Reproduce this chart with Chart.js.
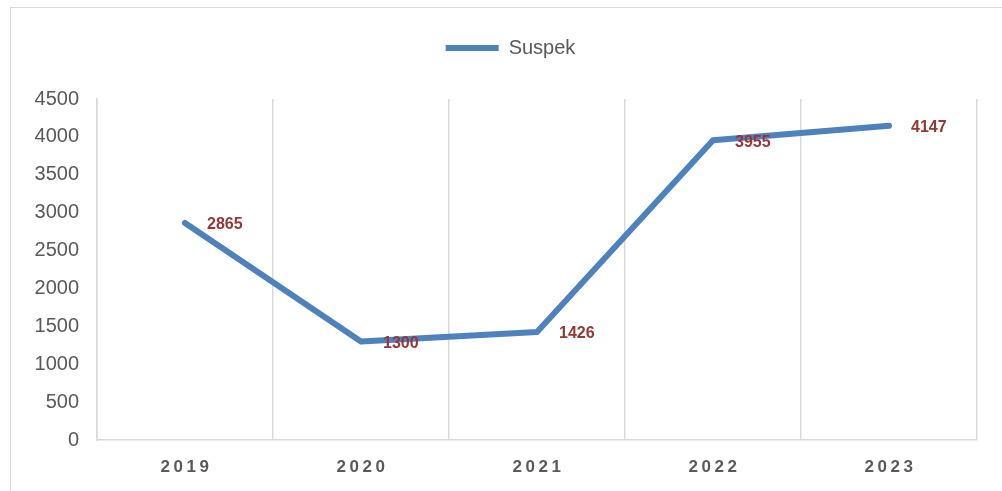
<!DOCTYPE html>
<html>
<head>
<meta charset="utf-8">
<script src="https://cdn.jsdelivr.net/npm/chart.js@4/dist/chart.umd.min.js"></script>
<style>
  html,body{margin:0;padding:0;background:#fff;}
  #wrap{position:relative;width:1002px;height:491px;overflow:hidden;}
  #frame{position:absolute;left:10px;top:7px;width:1100px;height:600px;border:1.5px solid #d9d9d9;box-sizing:border-box;}
  #c{position:absolute;left:0;top:0;}
</style>
</head>
<body>
<div id="wrap">
  <div id="frame"></div>
  <canvas id="c" width="1002" height="491"></canvas>
</div>
<script>
// ─── DATA ────────────────────────────────────────────────────────────────────
const YEARS=['2019','2020','2021','2022','2023'];
const SUSPEK=[2865,1300,1426,3955,4147];
const Y_MIN=0, Y_MAX=4500, Y_STEP=500;

const GRID='#d9d9d9', TXT='#595959', LINE='#4f81bd', LBL='#953735';

// give the legend extra room under it so the plot starts lower,
// and nudge it right like the original
const legendGap={
  id:'legendGap',
  beforeInit(chart){
    const fit=chart.legend.fit;
    chart.legend.fit=function(){fit.call(this); this.height+=31;};
  },
  afterLayout(chart){
    chart.legend.left+=22; chart.legend.right+=22;
  }
};

// year labels are spaced out, so draw them ourselves off the x scale
const xLabels={
  id:'xLabels',
  afterDraw(chart){
    const ctx=chart.ctx, sc=chart.scales.x;
    ctx.save();
    ctx.font='bold 17px "Liberation Sans"';
    ctx.fillStyle=TXT; ctx.textAlign='center'; ctx.textBaseline='middle';
    ctx.letterSpacing='3.5px';
    sc.ticks.forEach((t,i)=>ctx.fillText(YEARS[i],sc.getPixelForTick(i)+1.5,467));
    ctx.restore();
  }
};

// value labels to the right of each point
const valLabels={
  id:'valLabels',
  afterDatasetsDraw(chart){
    const ctx=chart.ctx, pts=chart.getDatasetMeta(0).data;
    ctx.save();
    ctx.font='bold 16px "Liberation Sans"';
    ctx.fillStyle=LBL; ctx.textAlign='left'; ctx.textBaseline='middle';
    pts.forEach((p,i)=>ctx.fillText(String(SUSPEK[i]),p.x+22,p.y+2));
    ctx.restore();
  }
};

new Chart(document.getElementById('c'),{
  type:'line',
  data:{labels:YEARS,datasets:[{
    label:'Suspek',data:SUSPEK,borderColor:LINE,backgroundColor:LINE,borderWidth:6,
    pointRadius:0,tension:0,borderJoinStyle:'round',borderCapStyle:'round'
  }]},
  options:{
    responsive:false,animation:false,
    layout:{padding:{left:0,right:25,top:16,bottom:0}},
    plugins:{
      legend:{position:'top',labels:{color:TXT,font:{family:'Liberation Sans',size:20},
        usePointStyle:true,pointStyle:'line',pointStyleWidth:53,boxHeight:6,padding:22}},
      tooltip:{enabled:false}
    },
    scales:{
      x:{offset:true,
        grid:{offset:true,color:GRID,lineWidth:1.5,drawTicks:false},
        border:{color:GRID,width:1.5},
        ticks:{display:false},
        afterFit:s=>{s.height=51;}},
      y:{min:Y_MIN,max:Y_MAX,
        grid:{display:false},
        border:{display:true,color:GRID,width:1.5},
        ticks:{stepSize:Y_STEP,color:TXT,padding:10,font:{family:'Liberation Sans',size:20},
          callback:v=>String(v)},
        afterFit:s=>{s.width=97;}}
    }
  },
  plugins:[legendGap,xLabels,valLabels]
});
</script>
</body>
</html>
